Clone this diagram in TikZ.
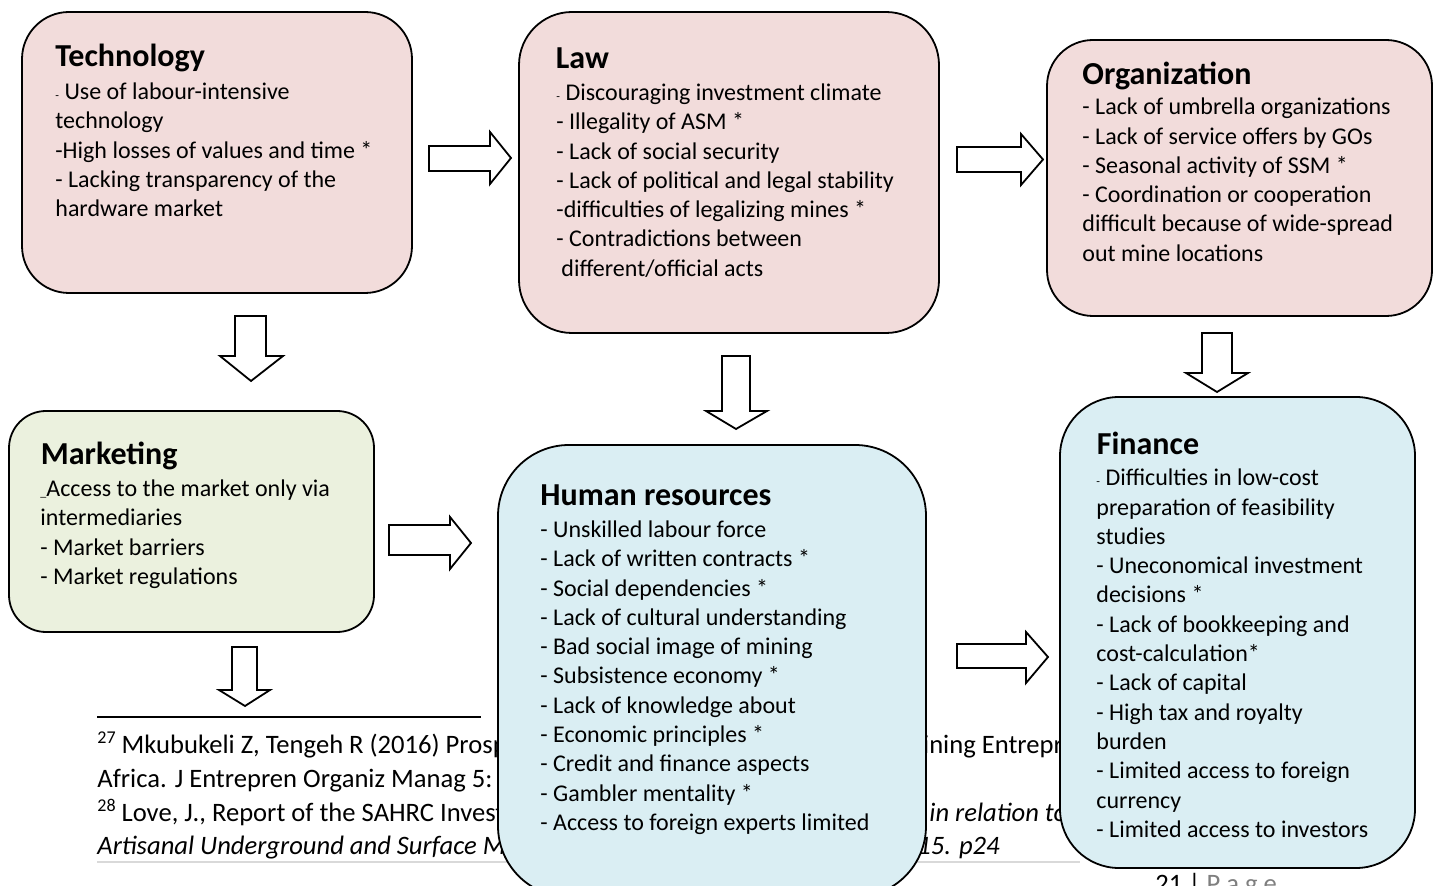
\documentclass[tikz,border=0pt]{standalone}
\usepackage{fontspec}
\setmainfont{Carlito}
\definecolor{pinkf}{HTML}{F2DCDB}
\definecolor{greenf}{HTML}{EBF1DE}
\definecolor{bluef}{HTML}{DAEEF3}
\definecolor{pagegray}{HTML}{7F7F7F}
\definecolor{rulegray}{HTML}{D9D9D9}
\newcommand{\sdash}{{\fontsize{6}{6}\selectfont -}}
\newcommand{\sunder}{{\fontsize{6}{6}\selectfont \_}}
\newcommand{\fsup}[1]{\raisebox{5pt}{\fontsize{9}{9}\selectfont #1}}
\tikzset{
  box/.style={draw=black, line width=0.9pt, rounded corners=#1, inner sep=0pt, outer sep=0pt},
  ttl/.style={anchor=base west, inner sep=0pt, font=\fontsize{16}{19}\selectfont\bfseries},
  bodytext/.style={anchor=north west, inner sep=0pt, align=left, font=\fontsize{12}{14.65}\selectfont},
  foot/.style={anchor=base west, inner sep=0pt, font=\fontsize{13.3}{16}\selectfont},
  barrow/.style={draw=black, fill=white, line width=0.9pt, line join=miter}
}
\begin{document}
\begin{tikzpicture}[x=0.5pt,y=-0.5pt]
\clip (0,0) rectangle (1438,886);
\fill[white] (0,0) rectangle (1438,886);

% footnotes (partly hidden behind boxes)
\coordinate (ruleA) at (97,717);
\coordinate (ruleB) at (481,717);
\draw[line width=0.8pt] (ruleA) -- (ruleB);
\coordinate (grayA) at (97,862);
\coordinate (grayB) at (1080,862);
\draw[rulegray, line width=1pt] (grayA) -- (grayB);
\node[foot] (f1) at (97,753) {\fsup{27} Mkubukeli Z, Tengeh R (2016) Prospects and Challenges};
\node[foot] (f1b) at (900,753) {Mining Entrepreneurs in South};
\node[foot] (f2) at (97,787) {Africa. J Entrepren Organiz Manag 5: 192};
\node[foot] (f3) at (97,821) {\fsup{28} Love, J., Report of the SAHRC Investigation into};
\node[foot] (f3b) at (929,821) {\textit{in relation to the}};
\node[foot] (f4) at (97,854) {\textit{Artisanal Underground and Surface Mining}};
\node[foot] (f4b) at (890,854) {\textit{2015. p24}};
\node[foot] (pg) at (1155,892) {21 | \textcolor{pagegray}{P a g e}};

% boxes
\node[box=23.5pt, fill=pinkf, minimum width=195pt, minimum height=140.5pt] (tech) at (217,152.5) {};
\node[box=26.5pt, fill=pinkf, minimum width=210pt, minimum height=160.5pt] (law) at (729,172.5) {};
\node[box=23pt, fill=pinkf, minimum width=192.5pt, minimum height=138pt] (org) at (1239.5,178) {};
\node[box=18.5pt, fill=greenf, minimum width=182.5pt, minimum height=110.5pt] (mkt) at (191.5,521.5) {};
\node[box=35.5pt, fill=bluef, minimum width=214pt, minimum height=226pt] (hr) at (712,671) {};
\node[box=29.5pt, fill=bluef, minimum width=177.5pt, minimum height=235.5pt] (fin) at (1237.5,632.5) {};

% texts
\node[ttl] (techT) at (55,67) {Technology};
\node[bodytext] (techB) at (55,78.5) {\strut\sdash{} Use of labour-intensive\\technology\\-High losses of values and time *\\- Lacking transparency of the\\hardware market};

\node[ttl] (lawT) at (555.5,68.5) {Law};
\node[bodytext] (lawB) at (556,79.5) {\strut\sdash{} Discouraging investment climate\\- Illegality of ASM *\\- Lack of social security\\- Lack of political and legal stability\\-difficulties of legalizing mines *\\- Contradictions between\\\hspace{2.5pt}different/official acts};

\node[ttl] (orgT) at (1082,85) {Organization};
\node[bodytext] (orgB) at (1082,93.8) {\strut- Lack of umbrella organizations\\- Lack of service offers by GOs\\- Seasonal activity of SSM *\\- Coordination or cooperation\\difficult because of wide-spread\\out mine locations};

\node[ttl] (mktT) at (40.5,465) {Marketing};
\node[bodytext] (mktB) at (40,475.5) {\strut\sunder{}Access to the market only via\\intermediaries\\- Market barriers\\- Market regulations};

\node[ttl] (hrT) at (540,506) {Human resources};
\node[bodytext] (hrB) at (540,516.5) {\strut- Unskilled labour force\\- Lack of written contracts *\\- Social dependencies *\\- Lack of cultural understanding\\- Bad social image of mining\\- Subsistence economy *\\- Lack of knowledge about\\- Economic principles *\\- Credit and finance aspects\\- Gambler mentality *\\- Access to foreign experts limited};

\node[ttl] (finT) at (1096.5,455) {Finance};
\node[bodytext] (finB) at (1096,464.8) {\strut\sdash{} Difficulties in low-cost\\preparation of feasibility\\studies\\- Uneconomical investment\\decisions *\\- Lack of bookkeeping and\\cost-calculation*\\- Lack of capital\\- High tax and royalty\\burden\\- Limited access to foreign\\currency\\- Limited access to investors};

% block arrows
\draw[barrow] (429,146) -- (490,146) -- (490,132) -- (511,158) -- (490,184) -- (490,171) -- (429,171) -- cycle;
\draw[barrow] (957,147) -- (1021,147) -- (1021,134) -- (1043,159.5) -- (1021,185) -- (1021,172) -- (957,172) -- cycle;
\draw[barrow] (389,525) -- (450,525) -- (450,517) -- (471,543) -- (450,569) -- (450,555) -- (389,555) -- cycle;
\draw[barrow] (957,644) -- (1026,644) -- (1026,632) -- (1048,657) -- (1026,683) -- (1026,668) -- (957,668) -- cycle;
\draw[barrow] (235,316) -- (266,316) -- (266,356) -- (283,356) -- (251,381) -- (220,356) -- (235,356) -- cycle;
\draw[barrow] (722,356) -- (750,356) -- (750,411) -- (767,411) -- (736,429) -- (706,411) -- (722,411) -- cycle;
\draw[barrow] (1202,333) -- (1232,333) -- (1232,373) -- (1248,373) -- (1217,392) -- (1186,373) -- (1202,373) -- cycle;
\draw[barrow] (232,647) -- (257,647) -- (257,690) -- (270,690) -- (245,706) -- (219,690) -- (232,690) -- cycle;
\end{tikzpicture}
\end{document}
